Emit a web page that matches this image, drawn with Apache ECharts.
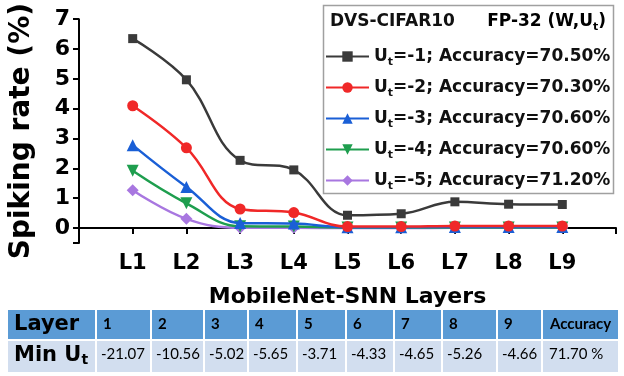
<!DOCTYPE html>
<html><head><meta charset="utf-8">
<script src="https://cdn.jsdelivr.net/npm/echarts@6/dist/echarts.min.js"></script>
<style>html,body{margin:0;padding:0;background:#fff}#c{width:624px;height:376px}</style>
</head><body><div id="c"></div>
<script>
// ---- data ----
const categories = ['L1','L2','L3','L4','L5','L6','L7','L8','L9'];
const utValues = [-1, -2, -3, -4, -5];
const accuracies = ['70.50%', '70.30%', '70.60%', '70.60%', '71.20%'];
const rateUt1 = [6.35, 4.97, 2.27, 1.95, 0.43, 0.48, 0.88, 0.80, 0.79];
const rateUt2 = [4.10, 2.69, 0.64, 0.52, 0.05, 0.05, 0.07, 0.07, 0.07];
const rateUt3 = [2.78, 1.38, 0.17, 0.15, 0.03, 0.03, 0.04, 0.04, 0.04];
const rateUt4 = [1.92, 0.83, 0.06, 0.05, 0.02, 0.02, 0.02, 0.02, 0.02];
const rateUt5 = [1.27, 0.31, 0.01, 0.01, 0.00, 0.00, 0.01, 0.01, 0.01];
const yTickLabels = ['0','1','2','3','4','5','6','7'];
const tableLayers = ['1','2','3','4','5','6','7','8','9'];
const tableMinUt = ['-21.07','-10.56','-5.02','-5.65','-3.71','-4.33','-4.65','-5.26','-4.66'];
const tableAccuracy = '71.70 %';

// ---- style ----
const colors = ['#3a3a3a', '#f02828', '#1a5fd6', '#1e9e4e', '#a877e0'];
const symbols = ['rect', 'circle', 'triangle', 'triangle', 'diamond'];
const symbolRot = [0, 0, 0, 180, 0];
const symbolSizes = [9, 11, 12, 12, 12];
const rates = [rateUt1, rateUt2, rateUt3, rateUt4, rateUt5];
const FONT = 'DejaVu Sans';
const names = utValues.map((u, i) => 'Ut=' + u + '; Accuracy=' + accuracies[i]);

const series = rates.map((arr, i) => ({
  name: names[i],
  type: 'line',
  smooth: 0.4,
  data: arr.map((v, j) => [j + 1, v]),
  symbol: symbols[i],
  symbolRotate: symbolRot[i],
  symbolSize: symbolSizes[i],
  color: colors[i],
  lineStyle: { width: 2.5, color: colors[i] },
  itemStyle: { color: colors[i] },
  z: 10 - i
}));

// ---- table graphics ----
const colEdges = [8, 96, 151, 204, 248, 297, 346, 394, 442, 497, 542, 619];
const row1 = [310, 339], row2 = [341, 372];
const tableG = [];
for (let c = 0; c < colEdges.length - 1; c++) {
  const x0 = colEdges[c] + (c === 0 ? 0 : 1), x1 = colEdges[c + 1] - 1;
  tableG.push({ type: 'rect', shape: { x: x0, y: row1[0], width: x1 - x0, height: row1[1] - row1[0] }, style: { fill: '#5b9bd5' } });
  tableG.push({ type: 'rect', shape: { x: x0, y: row2[0], width: x1 - x0, height: row2[1] - row2[0] }, style: { fill: '#d2deef' } });
}
const rowMid1 = (row1[0] + row1[1]) / 2, rowMid2 = (row2[0] + row2[1]) / 2;
tableG.push({ type: 'text', x: 14, y: rowMid1, style: { text: 'Layer', font: 'bold 21px "' + FONT + '"', fill: '#000', verticalAlign: 'middle' } });
tableG.push({ type: 'text', x: 14, y: rowMid2 - 1, style: {
  text: '{a|Min U}{b|t}', verticalAlign: 'middle',
  rich: { a: { fontFamily: FONT, fontWeight: 'bold', fontSize: 21, color: '#000', lineHeight: 24 },
          b: { fontFamily: FONT, fontWeight: 'bold', fontSize: 14, color: '#000', lineHeight: 17, verticalAlign: 'bottom' } } } });
tableLayers.forEach((t, i) => {
  tableG.push({ type: 'text', x: colEdges[i + 1] + 7, y: rowMid1, style: { text: t, font: 'bold 15px Lato', fill: '#000', verticalAlign: 'middle' } });
  tableG.push({ type: 'text', x: colEdges[i + 1] + 5, y: rowMid2 - 2, style: { text: tableMinUt[i], font: '15px Lato', fill: '#000', verticalAlign: 'middle' } });
});
tableG.push({ type: 'text', x: colEdges[10] + 8, y: rowMid1, style: { text: 'Accuracy', font: 'bold 15px Lato', fill: '#000', verticalAlign: 'middle' } });
tableG.push({ type: 'text', x: colEdges[10] + 7, y: rowMid2 - 2, style: { text: tableAccuracy, font: '15px Lato', fill: '#000', verticalAlign: 'middle' } });

const richLeg = {
  u: { fontFamily: FONT, fontWeight: 'bold', fontSize: 17, color: '#111', lineHeight: 22 },
  s: { fontFamily: FONT, fontWeight: 'bold', fontSize: 11, color: '#111', lineHeight: 11, verticalAlign: 'bottom' }
};

const chart = echarts.init(document.getElementById('c'), null, { renderer: 'canvas' });
chart.setOption({
  animation: false,
  backgroundColor: '#fff',
  grid: { left: 64, right: 8, top: 15, bottom: 133, containLabel: false },
  xAxis: {
    type: 'value', min: 0, max: categories.length + 1, interval: 1,
    name: 'MobileNet-SNN Layers', nameLocation: 'middle', nameGap: 43,
    nameTextStyle: { fontFamily: FONT, fontWeight: 'bold', fontSize: 22, color: '#000' },
    axisLine: { lineStyle: { color: '#000', width: 2 } },
    axisTick: { show: true, length: 6, inside: false, lineStyle: { color: '#000', width: 2 } },
    axisLabel: { margin: 10, fontFamily: FONT, fontWeight: 'bold', fontSize: 21, color: '#000',
      formatter: v => (v >= 1 && v <= categories.length) ? categories[v - 1] : '' },
    splitLine: { show: false }
  },
  yAxis: {
    type: 'value', min: -0.5, max: 7, splitNumber: 7,
    name: 'Spiking rate (%)', nameLocation: 'middle', nameGap: 43,
    nameTextStyle: { fontFamily: FONT, fontWeight: 'bold', fontSize: 28, color: '#000', padding: [0, 0, 0, 0] },
    axisLine: { lineStyle: { color: '#000', width: 2 } },
    axisTick: { show: true, length: 6, lineStyle: { color: '#000', width: 2 } },
    axisLabel: { margin: 9, fontFamily: FONT, fontWeight: 'bold', fontSize: 22, color: '#000',
      formatter: v => Number.isInteger(v) ? yTickLabels[v] : '' },
    splitLine: { show: false }
  },
  legend: {
    orient: 'vertical', left: 325, top: 48, padding: 0, itemGap: 11.5,
    itemWidth: 43, itemHeight: 13,
    data: names,
    formatter: name => {
      const i = names.indexOf(name);
      return '{u|U}{s|t}{u|=' + utValues[i] + '; Accuracy=' + accuracies[i] + '}';
    },
    textStyle: { rich: richLeg }
  },
  graphic: [
    { type: 'rect', z: 1, shape: { x: 323.5, y: 5.5, width: 290, height: 188 }, style: { fill: '#fff', stroke: '#a0a0a0', lineWidth: 1.5 } },
    { type: 'text', z: 2, x: 330, y: 22, style: { text: 'DVS-CIFAR10', font: 'bold 17px "' + FONT + '"', fill: '#111', verticalAlign: 'middle' } },
    { type: 'text', z: 2, x: 606, y: 22, style: { text: '{u|FP-32 (W,U}{s|t}{u|)}', align: 'right', verticalAlign: 'middle', rich: richLeg } },
    ...tableG
  ],
  series: series
});
</script></body></html>
